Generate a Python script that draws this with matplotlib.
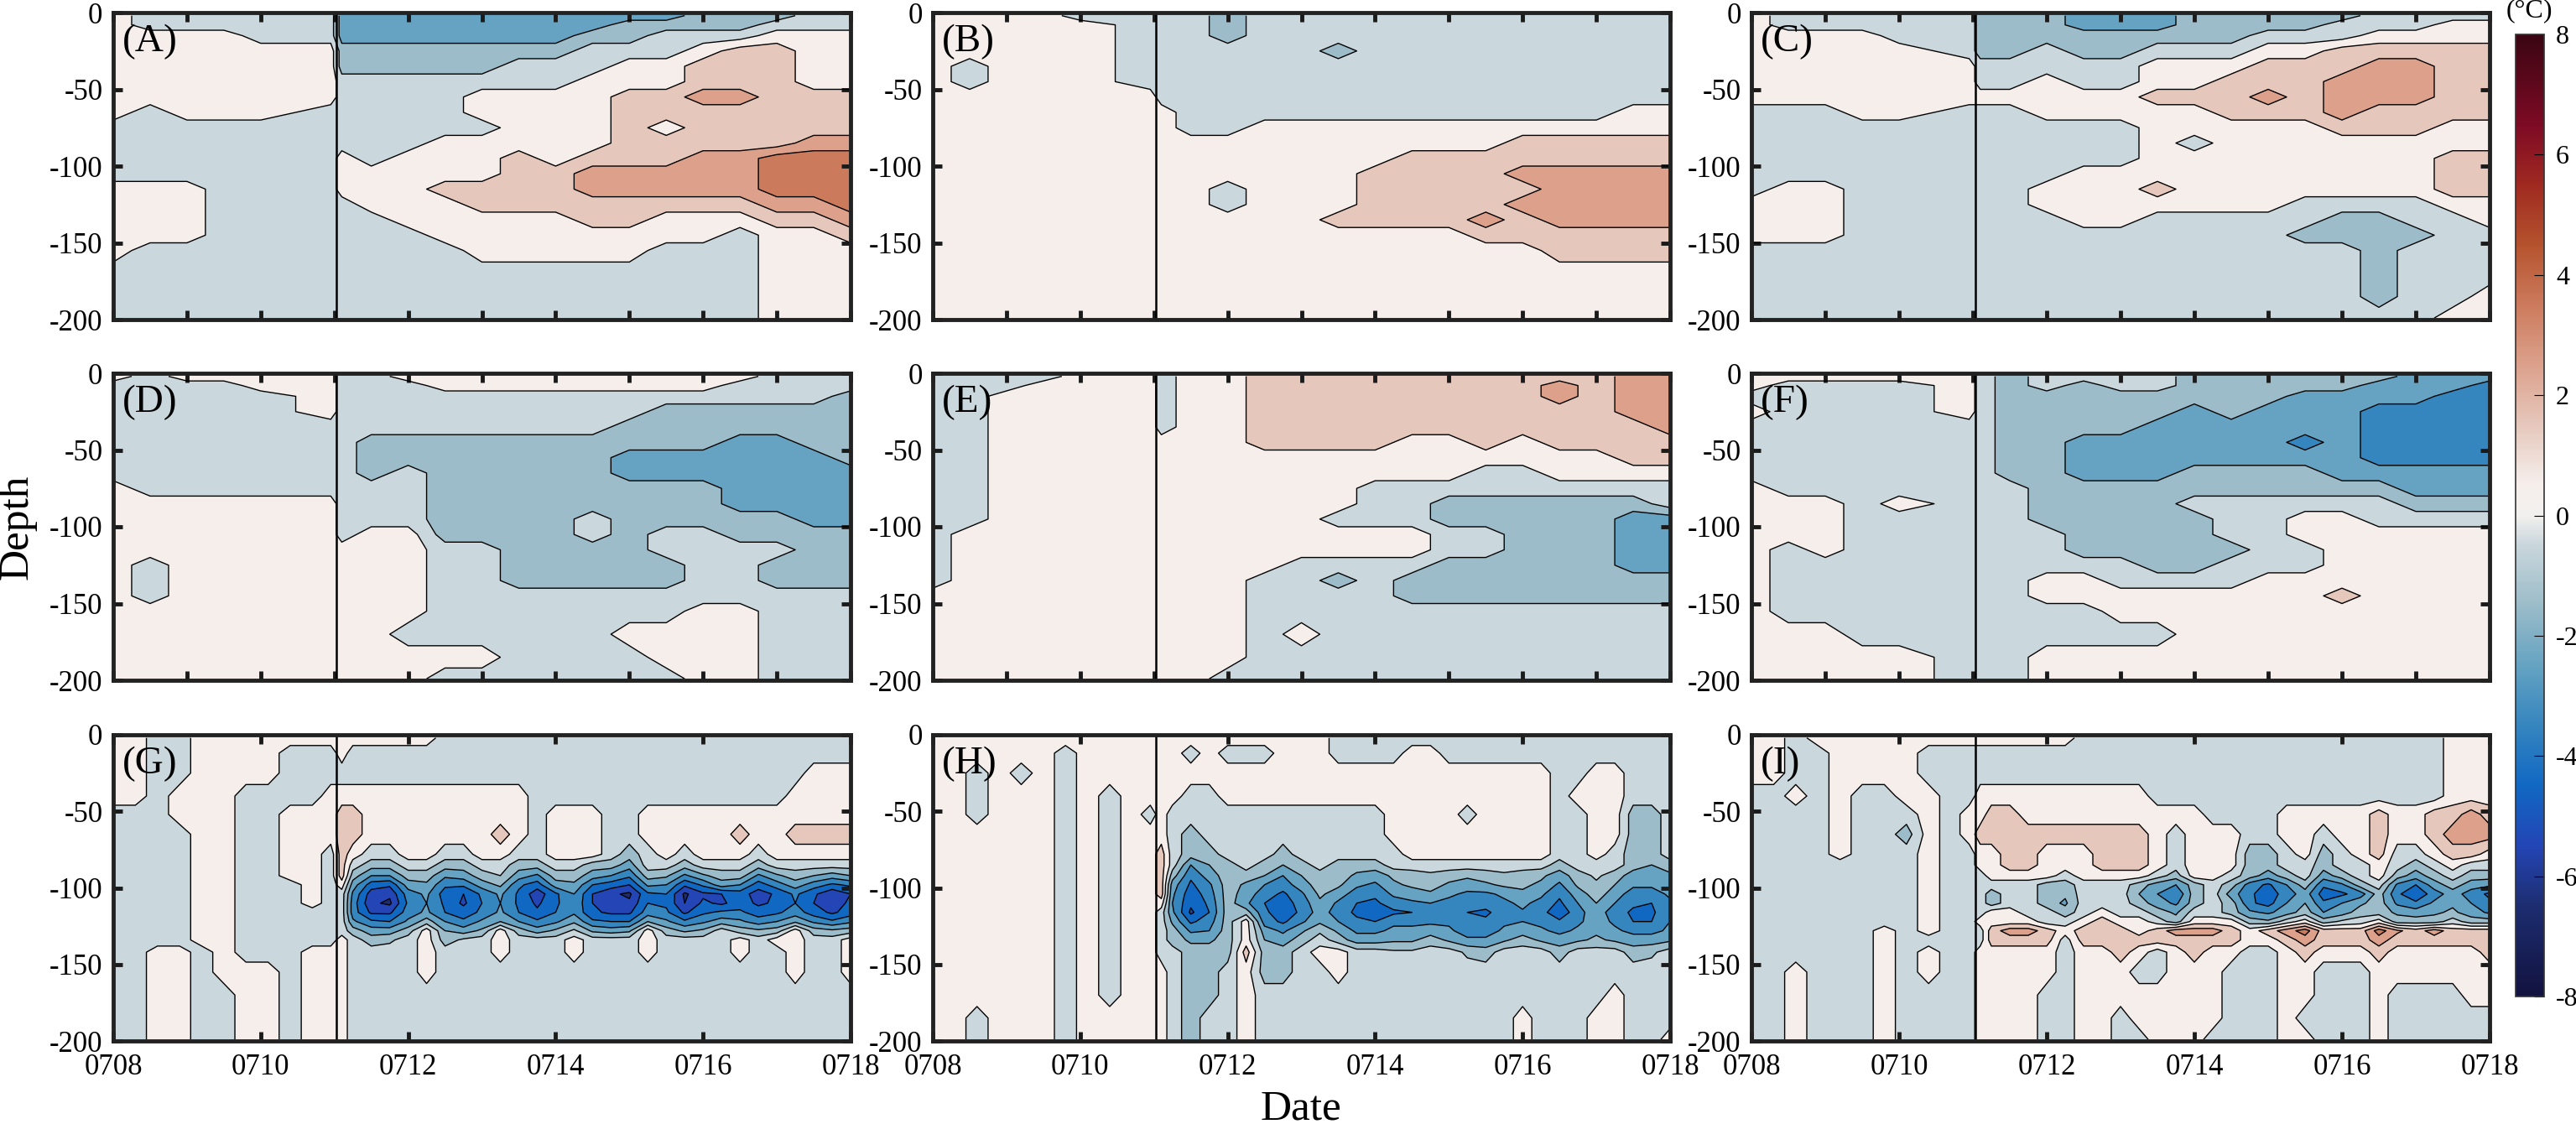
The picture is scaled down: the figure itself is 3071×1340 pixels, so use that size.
import numpy as np
import matplotlib
matplotlib.use('Agg')
import matplotlib.pyplot as plt
from matplotlib.cm import ScalarMappable
from matplotlib.colors import LinearSegmentedColormap, Normalize

plt.rcParams['font.family'] = ['Liberation Serif', 'DejaVu Serif']
plt.rcParams['axes.unicode_minus'] = False

# days after 0708, depth in m, temperature anomaly in 0.1 degC
days_top = [0, .5, 1, 1.5, 2, 2.95, 3.1, 3.5, 4, 4.5, 5, 5.5, 6, 6.5, 7, 7.5, 8, 8.5, 9, 9.5, 10]
depth_top = [-2, -8, -15, -25, -35, -45, -55, -65, -75, -85, -95, -105, -115, -125, -135, -145, -155, -170, -185, -199]
days_low = [0, .3, .6, .9, 1.2, 1.5, 1.8, 2.1, 2.4, 2.7, 2.95, 3.1, 3.25, 3.5, 3.75, 4, 4.25, 4.5, 4.75, 5, 5.25, 5.5,
            5.75, 6, 6.25, 6.5, 6.75, 7, 7.25, 7.5, 7.75, 8, 8.25, 8.5, 8.75, 9, 9.25, 9.5, 9.75, 10]
depth_low = [-2, -12, -25, -40, -52, -65, -78, -85, -92, -98, -104, -110, -116, -122, -128, -134, -142, -155, -170, -185, -199]
date_labels = ['0708', '0710', '0712', '0714', '0716', '0718']
depth_ticks = [0, -50, -100, -150, -200]
panel_names = ['(A)', '(B)', '(C)', '(D)', '(E)', '(F)', '(G)', '(H)', '(I)']

panel_a = [
    [5,-5,-5,-5,-5,-5,-25,-25,-25,-25,-25,-25,-25,-25,-25,-25,-15,-15,-15,-5,-5],
    [5,-5,-5,-5,-5,-5,-25,-25,-25,-25,-25,-25,-25,-25,-15,-15,-15,-15,-5,-5,-5],
    [5,5,5,5,-5,-5,-25,-25,-25,-25,-25,-25,-25,-15,-15,-5,-5,-5,5,5,5],
    [5,5,5,5,5,5,-15,-15,-15,-15,-15,-15,-15,-5,-5,-5,5,15,15,5,5],
    [5,5,5,5,5,5,-15,-15,-15,-15,-15,-5,-5,-5,5,5,15,15,15,5,5],
    [5,5,5,5,5,5,-5,-5,-5,-5,-5,-5,-5,5,5,5,15,15,15,5,5],
    [5,5,5,5,5,5,-5,-5,-5,-5,5,5,5,5,15,15,25,25,15,15,15],
    [5,-5,5,5,5,-5,-5,-5,-5,-5,5,5,5,5,15,15,15,15,15,15,15],
    [-5,-5,-5,-5,-5,-5,-5,-5,-5,-5,-5,5,5,5,15,5,15,15,15,15,15],
    [-5,-5,-5,-5,-5,-5,-5,-5,-5,5,5,5,5,5,15,15,15,15,15,25,25],
    [-5,-5,-5,-5,-5,-5,5,-5,5,5,5,15,5,15,15,15,25,25,35,35,35],
    [-5,-5,-5,-5,-5,-5,5,5,5,5,5,15,15,25,25,25,25,25,35,35,35],
    [5,5,5,-5,-5,-5,5,5,5,15,15,15,15,25,25,25,25,25,35,35,35],
    [5,5,5,-5,-5,-5,-5,5,5,5,15,15,15,15,15,15,15,15,25,25,35],
    [5,5,5,-5,-5,-5,-5,-5,5,5,5,5,5,15,15,5,5,5,15,15,25],
    [5,5,5,-5,-5,-5,-5,-5,-5,5,5,5,5,5,5,5,5,-5,5,5,15],
    [5,-5,-5,-5,-5,-5,-5,-5,-5,-5,5,5,5,5,5,-5,-5,-5,5,5,5],
    [-5,-5,-5,-5,-5,-5,-5,-5,-5,-5,-5,-5,-5,-5,-5,-5,-5,-5,5,5,5],
    [-5,-5,-5,-5,-5,-5,-5,-5,-5,-5,-5,-5,-5,-5,-5,-5,-5,-5,5,5,5],
    [-5,-5,-5,-5,-5,-5,-5,-5,-5,-5,-5,-5,-5,-5,-5,-5,-5,-5,5,5,5],
]
panel_b = [
    [5,5,5,5,-5,-5,-5,-5,-15,-5,-5,-5,-5,-5,-5,-5,-5,-5,-5,-5,-5],
    [5,5,5,5,5,-5,-5,-5,-15,-5,-5,-5,-5,-5,-5,-5,-5,-5,-5,-5,-5],
    [5,5,5,5,5,-5,-5,-5,-15,-5,-5,-5,-5,-5,-5,-5,-5,-5,-5,-5,-5],
    [5,5,5,5,5,-5,-5,-5,-5,-5,-5,-15,-5,-5,-5,-5,-5,-5,-5,-5,-5],
    [5,-5,5,5,5,-5,-5,-5,-5,-5,-5,-5,-5,-5,-5,-5,-5,-5,-5,-5,-5],
    [5,-5,5,5,5,-5,-5,-5,-5,-5,-5,-5,-5,-5,-5,-5,-5,-5,-5,-5,-5],
    [5,5,5,5,5,5,-5,-5,-5,-5,-5,-5,-5,-5,-5,-5,-5,-5,-5,-5,-5],
    [5,5,5,5,5,5,5,-5,-5,-5,-5,-5,-5,-5,-5,-5,-5,-5,-5,5,5],
    [5,5,5,5,5,5,5,-5,-5,5,5,5,5,5,5,5,5,5,5,5,5],
    [5,5,5,5,5,5,5,5,5,5,5,5,5,5,5,5,15,15,15,15,15],
    [5,5,5,5,5,5,5,5,5,5,5,5,5,15,15,15,15,15,15,15,15],
    [5,5,5,5,5,5,5,5,5,5,5,5,15,15,15,15,25,25,25,25,25],
    [5,5,5,5,5,5,5,5,-5,5,5,5,15,15,15,15,15,25,25,25,25],
    [5,5,5,5,5,5,5,5,-5,5,5,5,15,15,15,15,25,25,25,25,25],
    [5,5,5,5,5,5,5,5,5,5,5,15,15,15,15,25,15,25,25,25,25],
    [5,5,5,5,5,5,5,5,5,5,5,5,5,5,5,15,15,15,15,15,15],
    [5,5,5,5,5,5,5,5,5,5,5,5,5,5,5,5,5,15,15,15,15],
    [5,5,5,5,5,5,5,5,5,5,5,5,5,5,5,5,5,5,5,5,5],
    [5,5,5,5,5,5,5,5,5,5,5,5,5,5,5,5,5,5,5,5,5],
    [5,5,5,5,5,5,5,5,5,5,5,5,5,5,5,5,5,5,5,5,5],
]
panel_c = [
    [5,-5,-5,-5,-5,-5,-15,-15,-15,-25,-25,-25,-15,-15,-15,-15,-15,-5,-5,-5,-5],
    [5,-5,-5,-5,-5,-5,-15,-15,-15,-25,-25,-25,-15,-15,-15,-15,-5,-5,-5,5,5],
    [5,5,5,5,-5,-5,-15,-15,-15,-15,-15,-15,-15,-15,-5,-5,-5,5,5,5,5],
    [5,5,5,5,5,-5,-15,-15,-5,-15,-15,-5,-5,-5,5,5,15,15,15,15,15],
    [5,5,5,5,5,5,-5,-5,-5,-5,-5,5,5,5,15,15,15,25,25,15,15],
    [5,5,5,5,5,5,-5,-5,5,-5,-5,5,5,15,15,15,25,25,25,15,15],
    [5,5,5,5,5,5,5,5,5,5,5,15,15,15,25,15,25,25,25,15,15],
    [-5,-5,-5,5,5,-5,-5,-5,5,5,5,5,5,15,15,15,25,15,15,15,15],
    [-5,-5,-5,-5,-5,-5,-5,-5,-5,-5,-5,5,5,5,5,5,15,15,15,5,5],
    [-5,-5,-5,-5,-5,-5,-5,-5,-5,-5,-5,5,-5,5,5,5,5,5,5,5,5],
    [-5,-5,-5,-5,-5,-5,-5,-5,-5,-5,-5,5,5,5,5,5,5,5,5,15,15],
    [-5,-5,-5,-5,-5,-5,-5,-5,-5,5,5,5,5,5,5,5,5,5,5,15,15],
    [-5,5,5,-5,-5,-5,-5,-5,5,5,5,15,5,5,5,5,5,5,5,15,15],
    [5,5,5,-5,-5,-5,-5,-5,5,5,5,5,5,5,5,-5,-5,-5,-5,5,5],
    [5,5,5,-5,-5,-5,-5,-5,-5,5,5,-5,-5,-5,-5,-5,-15,-15,-5,-5,5],
    [5,5,5,-5,-5,-5,-5,-5,-5,-5,-5,-5,-5,-5,-5,-15,-15,-15,-15,-5,-5],
    [-5,-5,-5,-5,-5,-5,-5,-5,-5,-5,-5,-5,-5,-5,-5,-5,-5,-15,-5,-5,-5],
    [-5,-5,-5,-5,-5,-5,-5,-5,-5,-5,-5,-5,-5,-5,-5,-5,-5,-15,-5,-5,-5],
    [-5,-5,-5,-5,-5,-5,-5,-5,-5,-5,-5,-5,-5,-5,-5,-5,-5,-15,-5,-5,5],
    [-5,-5,-5,-5,-5,-5,-5,-5,-5,-5,-5,-5,-5,-5,-5,-5,-5,-5,-5,5,5],
]
panel_d = [
    [5,-5,5,5,5,5,-5,-5,5,5,5,5,5,5,5,5,5,5,-5,-5,-5],
    [-5,-5,-5,-5,5,5,-5,-5,-5,5,5,5,5,5,5,5,5,-5,-5,-5,-5],
    [-5,-5,-5,-5,-5,5,-5,-5,-5,-5,-5,-5,-5,-5,-5,-5,-5,-5,-5,-5,-15],
    [-5,-5,-5,-5,-5,5,-5,-5,-5,-5,-5,-5,-5,-5,-5,-15,-15,-15,-15,-15,-15],
    [-5,-5,-5,-5,-5,-5,-5,-5,-5,-5,-5,-5,-5,-5,-15,-15,-15,-15,-15,-15,-15],
    [-5,-5,-5,-5,-5,-5,-5,-15,-15,-15,-15,-15,-15,-15,-15,-15,-15,-25,-25,-15,-15],
    [-5,-5,-5,-5,-5,-5,-5,-15,-15,-15,-15,-15,-15,-15,-25,-25,-25,-25,-25,-25,-15],
    [-5,-5,-5,-5,-5,-5,-5,-15,-5,-15,-15,-15,-15,-15,-25,-25,-25,-25,-25,-25,-25],
    [5,-5,-5,-5,-5,-5,-5,-5,-5,-15,-15,-15,-15,-15,-15,-15,-15,-25,-25,-25,-25],
    [5,5,5,5,5,5,-5,-5,-5,-15,-15,-15,-15,-15,-15,-15,-15,-25,-25,-25,-25],
    [5,5,5,5,5,5,-5,-5,-5,-15,-15,-15,-15,-5,-15,-15,-15,-15,-15,-25,-25],
    [5,5,5,5,5,5,-5,5,5,-15,-15,-15,-15,-5,-15,-5,-5,-15,-15,-15,-15],
    [5,5,5,5,5,5,5,5,5,-5,-5,-15,-15,-15,-15,-5,-5,-5,-5,-15,-15],
    [5,-5,5,5,5,5,5,5,5,-5,-5,-15,-15,-15,-15,-15,-5,-5,-15,-15,-15],
    [5,-5,5,5,5,5,5,5,5,-5,-5,-15,-15,-15,-15,-15,-5,-5,-15,-15,-15],
    [5,-5,5,5,5,5,5,5,5,-5,-5,-5,-5,-5,-5,-5,-5,-5,-5,-5,-5],
    [5,5,5,5,5,5,5,5,5,-5,-5,-5,-5,-5,-5,-5,5,5,-5,-5,-5],
    [5,5,5,5,5,5,5,5,-5,-5,-5,-5,-5,-5,5,5,5,5,-5,-5,-5],
    [5,5,5,5,5,5,5,5,5,5,5,-5,-5,-5,-5,5,5,5,-5,-5,-5],
    [5,5,5,5,5,5,5,5,5,-5,-5,-5,-5,-5,-5,-5,5,5,-5,-5,-5],
]
panel_e = [
    [-5,-5,-5,-5,5,5,-5,5,5,15,15,15,15,15,15,15,15,15,15,25,25],
    [-5,-5,-5,5,5,5,-5,5,5,15,15,15,15,15,15,15,15,25,15,25,25],
    [-5,-5,5,5,5,5,-5,5,5,15,15,15,15,15,15,15,15,25,15,25,25],
    [-5,-5,5,5,5,5,-5,5,5,15,15,15,15,15,15,15,15,15,15,25,25],
    [-5,-5,5,5,5,5,-5,5,5,15,15,15,15,15,15,15,15,15,15,15,25],
    [-5,-5,5,5,5,5,5,5,5,15,15,15,15,5,5,15,5,15,15,15,15],
    [-5,-5,5,5,5,5,5,5,5,5,5,5,5,5,5,5,5,5,5,15,15],
    [-5,-5,5,5,5,5,5,5,5,5,5,5,5,5,5,-5,-5,5,5,5,5],
    [-5,-5,5,5,5,5,5,5,5,5,5,5,-5,-5,-5,-5,-5,-5,-5,-5,-5],
    [-5,-5,5,5,5,5,5,5,5,5,5,5,-5,-5,-15,-15,-15,-15,-15,-15,-5],
    [-5,-5,5,5,5,5,5,5,5,5,5,-5,-5,-5,-15,-15,-15,-15,-15,-25,-25],
    [-5,5,5,5,5,5,5,5,5,5,5,5,5,5,-5,-5,-15,-15,-15,-25,-25],
    [-5,5,5,5,5,5,5,5,5,5,5,5,5,5,-5,-5,-15,-15,-15,-25,-25],
    [-5,5,5,5,5,5,5,5,5,5,-5,-5,-5,-5,-15,-15,-15,-15,-15,-25,-25],
    [-5,5,5,5,5,5,5,5,5,-5,-5,-15,-5,-15,-15,-15,-15,-15,-15,-15,-15],
    [5,5,5,5,5,5,5,5,5,-5,-5,-5,-5,-15,-15,-15,-15,-15,-15,-15,-15],
    [5,5,5,5,5,5,5,5,5,-5,-5,-5,-5,-5,-5,-5,-5,-5,-5,-5,-5],
    [5,5,5,5,5,5,5,5,5,-5,5,-5,-5,-5,-5,-5,-5,-5,-5,-5,-5],
    [5,5,5,5,5,5,5,5,5,-5,-5,-5,-5,-5,-5,-5,-5,-5,-5,-5,-5],
    [5,5,5,5,5,5,5,5,-5,-5,-5,-5,-5,-5,-5,-5,-5,-5,-5,-5,-5],
]
panel_f = [
    [5,5,5,5,5,5,-5,-15,-5,-5,-5,-5,-15,-15,-15,-15,-15,-15,-25,-25,-25],
    [5,-5,-5,-5,-5,5,-5,-15,-5,-15,-5,-5,-15,-15,-15,-15,-15,-25,-25,-25,-35],
    [-5,-5,-5,-5,-5,5,-5,-15,-15,-15,-15,-15,-15,-15,-15,-25,-25,-25,-25,-35,-35],
    [5,-5,-5,-5,-5,5,-5,-15,-15,-15,-15,-15,-25,-15,-25,-25,-25,-35,-35,-35,-35],
    [-5,-5,-5,-5,-5,-5,-5,-15,-15,-15,-15,-25,-25,-25,-25,-25,-25,-35,-35,-35,-35],
    [-5,-5,-5,-5,-5,-5,-5,-15,-15,-25,-25,-25,-25,-25,-25,-35,-25,-35,-35,-35,-35],
    [-5,-5,-5,-5,-5,-5,-5,-15,-15,-25,-25,-25,-25,-25,-25,-25,-25,-35,-35,-35,-35],
    [-5,-5,-5,-5,-5,-5,-5,-15,-15,-25,-25,-25,-15,-15,-15,-15,-25,-25,-25,-25,-25],
    [5,-5,-5,-5,-5,-5,-5,-5,-15,-15,-15,-15,-15,-15,-15,-15,-15,-15,-25,-25,-25],
    [5,5,5,-5,5,-5,-5,-5,-15,-15,-15,-15,-5,-5,-5,-5,-5,-5,-15,-15,-15],
    [5,5,5,-5,-5,-5,-5,-5,-15,-15,-15,-15,-15,-5,-5,5,5,-5,-5,-5,-5],
    [5,5,5,-5,-5,-5,-5,-5,-5,-15,-15,-15,-15,-5,-5,5,5,5,5,5,5],
    [5,-5,5,-5,-5,-5,-5,-5,-5,-15,-15,-15,-15,-15,-5,-5,5,5,5,5,5],
    [5,-5,-5,-5,-5,-5,-5,-5,-5,-5,-5,-15,-15,-5,-5,-5,5,5,5,5,5],
    [5,-5,-5,-5,-5,-5,-5,-5,5,5,-5,-5,-5,-5,5,5,5,5,5,5,5],
    [5,-5,-5,-5,-5,-5,-5,-5,5,5,5,5,5,5,5,5,15,5,5,5,5],
    [5,-5,-5,-5,-5,-5,-5,-5,-5,-5,5,5,5,5,5,5,5,5,5,5,5],
    [5,5,5,-5,-5,-5,-5,-5,-5,-5,-5,-5,5,5,5,5,5,5,5,5,5],
    [5,5,5,5,5,-5,-5,-5,5,5,5,5,5,5,5,5,5,5,5,5,5],
    [5,5,5,5,5,-5,-5,-5,5,5,5,5,5,5,5,5,5,5,5,5,5],
]
panel_g = [
    [5,5,-5,-5,5,5,5,5,5,5,5, 5,5,5,5,5,5,-5,-5,-5,-5,-5,-5,-5,-5,-5,-5,-5,-5,-5,-5,-5,-5,-5,-5,-5,-5,-5,-5,-5],
    [5,5,-5,-5,5,5,5,5,-5,-5,-5, 5,-5,-5,-5,-5,-5,-5,-5,-5,-5,-5,-5,-5,-5,-5,-5,-5,-5,-5,-5,-5,-5,-5,-5,-5,-5,-5,-5,-5],
    [5,5,-5,-5,5,5,5,5,-5,-5,-5, -5,-5,-5,-5,-5,-5,-5,-5,-5,-5,-5,-5,-5,-5,-5,-5,-5,-5,-5,-5,-5,-5,-5,-5,-5,-5,5,5,5],
    [5,5,-5,5,5,5,-5,-5,-5,-5,5, 5,5,5,5,5,5,5,5,5,5,5,-5,-5,-5,-5,-5,-5,-5,-5,-5,-5,-5,-5,-5,-5,5,5,5,5],
    [-5,-5,-5,5,5,5,-5,-5,5,5,5, 15,15,5,5,5,5,5,5,5,5,5,-5,5,5,5,-5,-5,5,5,5,5,5,5,5,5,5,5,5,5],
    [-5,-5,-5,-5,5,5,-5,-5,5,5,5, 15,15,5,5,5,5,5,5,5,15,5,-5,5,5,5,-5,-5,5,5,5,5,5,15,5,5,15,15,15,15],
    [-5,-5,-5,-5,5,5,-5,-5,5,5,-5, 15,5,-5,-5,5,5,-5,-5,5,5,-5,-5,5,5,5,-5,-15,-5,5,-5,5,5,5,-5,5,5,5,5,5],
    [-5,-5,-5,-5,5,5,-5,-5,5,5,-5, 15,-5,-15,-15,-5,-5,-15,-15,-5,-5,-15,-15,-5,-5,-15,-15,-25,-5,-5,-15,-5,-5,-5,-15,-5,-5,-5,-5,-5],
    [-5,-5,-5,-5,5,5,-5,-5,5,5,-5, 15,-15,-30,-30,-15,-15,-28,-25,-15,-10,-25,-32,-15,-15,-25,-30,-38,-15,-18,-32,-22,-15,-15,-32,-22,-15,-20,-25,-20],
    [-5,-5,-5,-5,5,5,-5,-5,-5,5,-5, 5,-25,-45,-48,-25,-22,-38,-38,-25,-18,-38,-45,-25,-22,-40,-45,-50,-28,-30,-48,-38,-25,-30,-45,-35,-25,-35,-42,-38],
    [-5,-5,-5,-5,5,5,-5,-5,-5,5,-5, -5,-32,-55,-58,-35,-28,-45,-50,-38,-28,-42,-56,-42,-30,-50,-58,-62,-42,-40,-62,-52,-50,-45,-55,-48,-38,-48,-58,-50],
    [-5,-5,-5,-5,5,5,-5,-5,-5,5,-5, -5,-35,-58,-62,-38,-30,-42,-52,-40,-30,-42,-52,-42,-32,-50,-58,-58,-40,-42,-60,-48,-52,-45,-52,-48,-40,-50,-55,-48],
    [-5,-5,-5,-5,5,5,-5,-5,-5,-5,-5, -5,-35,-52,-52,-35,-28,-40,-45,-38,-28,-40,-48,-40,-32,-48,-52,-52,-35,-38,-52,-42,-38,-38,-45,-42,-35,-45,-52,-45],
    [-5,-5,-5,-5,5,5,-5,-5,-5,-5,-5, -5,-28,-38,-40,-28,-15,-30,-38,-28,-20,-30,-38,-32,-22,-38,-40,-40,-20,-28,-38,-32,-25,-28,-35,-30,-22,-32,-38,-32],
    [-5,-5,-5,-5,5,5,-5,-5,-5,-5,-5, -5,-15,-25,-25,-15,5,-20,-25,-18,5,-15,-25,-18,-8,-22,-25,-22,5,-15,-22,-18,-5,-15,-18,-15,5,-15,-18,-15],
    [-5,-5,-5,-5,5,5,-5,-5,-5,-5,-5, 5,-5,-15,-12,-5,5,-15,-8,-5,5,-5,-5,-5,5,-5,-5,-5,5,-5,-5,-5,-5,5,-5,5,5,-5,-5,5],
    [-5,-5,5,5,-5,5,-5,-5,-5,5,5, 5,-5,-5,-5,-5,5,-5,-5,-5,5,-5,-5,-5,5,-5,-5,-5,5,-5,-5,-5,-5,5,-5,-5,5,-5,-5,5],
    [-5,-5,5,5,-5,5,5,5,-5,5,5, 5,-5,-5,-5,-5,5,-5,-5,-5,-5,-5,-5,-5,-5,-5,-5,-5,-5,-5,-5,-5,-5,-5,-5,-5,5,-5,-5,5],
    [-5,-5,5,5,-5,-5,5,5,-5,5,5, 5,-5,-5,-5,-5,-5,-5,-5,-5,-5,-5,-5,-5,-5,-5,-5,-5,-5,-5,-5,-5,-5,-5,-5,-5,-5,-5,-5,-5],
    [-5,-5,5,5,-5,-5,5,5,-5,5,5, 5,-5,-5,-5,-5,-5,-5,-5,-5,-5,-5,-5,-5,-5,-5,-5,-5,-5,-5,-5,-5,-5,-5,-5,-5,-5,-5,-5,-5],
    [-5,-5,5,5,-5,-5,5,5,-5,5,5, 5,-5,-5,-5,-5,-5,-5,-5,-5,-5,-5,-5,-5,-5,-5,-5,-5,-5,-5,-5,-5,-5,-5,-5,-5,-5,-5,-5,-5],
]
panel_h = [
    [5,5,5,5,5,5,5,5,5,5,5, 5,5,5,5,5,5,5,5,5,5,-5,-5,-5,-5,-5,-5,-5,-5,-5,-5,-5,-5,-5,-5,-5,-5,-5,-5,-5],
    [5,5,5,5,5,5,-5,5,5,5,5, 5,5,-5,5,-5,-5,-5,5,5,5,-5,-5,-5,-5,5,5,-5,-5,-5,-5,-5,-5,-5,-5,-5,-5,-5,-5,-5],
    [5,5,-5,5,-5,5,-5,5,5,5,5, 5,5,5,5,5,5,5,5,5,5,5,5,5,5,5,5,5,5,5,5,5,5,-5,-5,5,5,-5,-5,-5],
    [5,5,-5,5,5,5,-5,5,-5,5,5, 5,5,-5,-5,5,5,5,5,5,5,5,5,5,5,5,5,5,5,5,5,5,5,-5,5,5,5,-5,-5,-5],
    [5,5,-5,5,5,5,-5,5,-5,5,-5, 5,-5,-5,-5,-5,-5,-5,-5,-5,-5,-5,-5,-5,5,5,5,5,-5,5,5,5,5,-5,-5,5,5,-15,-15,-5],
    [5,5,5,5,5,5,-5,5,-5,5,5, 5,-5,-15,-5,-5,-5,-5,-5,-5,-5,-5,-5,-5,5,5,5,5,5,5,5,5,5,-5,-5,5,5,-15,-15,-5],
    [5,5,5,5,5,5,-5,5,-5,5,5, 15,-5,-15,-15,-5,-5,-5,-15,-5,-5,-5,-5,-5,-5,5,5,5,5,5,5,5,5,-5,-5,5,-5,-15,-15,-5],
    [5,5,5,5,5,5,-5,5,-5,5,5, 15,-5,-30,-20,-15,-5,-15,-20,-15,-5,-15,-15,-15,-5,-5,-5,-5,-5,-5,-5,-5,-5,-15,-5,-5,-5,-15,-20,-15],
    [5,5,5,5,5,5,-5,5,-5,5,5, 15,-15,-38,-25,-15,-15,-20,-30,-20,-15,-15,-22,-25,-18,-15,-12,-15,-18,-15,-12,-15,-18,-25,-15,-8,-15,-25,-25,-22],
    [5,5,5,5,5,5,-5,5,-5,5,5, 15,-25,-42,-32,-15,-22,-30,-35,-25,-15,-18,-28,-32,-22,-18,-15,-22,-25,-22,-18,-18,-22,-32,-18,-12,-20,-28,-28,-25],
    [5,5,5,5,5,5,-5,5,-5,5,5, 15,-28,-46,-35,-15,-25,-35,-42,-32,-18,-25,-35,-38,-28,-25,-22,-28,-32,-32,-28,-22,-28,-38,-25,-15,-25,-35,-35,-28],
    [5,5,5,5,5,5,-5,5,-5,5,5, 5,-30,-48,-38,-15,-28,-40,-45,-36,-22,-32,-40,-42,-35,-32,-30,-33,-38,-36,-32,-28,-33,-42,-30,-20,-30,-38,-40,-32],
    [5,5,5,5,5,5,-5,5,-5,5,5, -5,-28,-52,-40,-15,-15,-38,-46,-38,-25,-35,-42,-45,-42,-40,-38,-36,-40,-42,-35,-31,-36,-48,-33,-25,-35,-42,-42,-32],
    [5,5,5,5,5,5,-5,5,-5,5,5, -5,-22,-42,-35,-15,5,-35,-42,-32,-22,-30,-38,-40,-32,-32,-32,-32,-38,-38,-32,-30,-33,-38,-32,-25,-32,-40,-40,-30],
    [5,5,5,5,5,5,-5,5,-5,5,5, -5,-15,-32,-30,-15,5,-25,-32,-22,-12,-22,-32,-32,-28,-28,-25,-28,-35,-35,-28,-25,-28,-33,-28,-22,-28,-33,-33,-28],
    [5,5,5,5,5,5,-5,5,-5,5,5, -5,-15,-22,-22,-15,5,-20,-25,-15,-5,-15,-25,-25,-22,-22,-15,-22,-28,-28,-22,-15,-22,-25,-22,-18,-22,-25,-25,-22],
    [5,5,5,5,5,5,-5,5,-5,5,5, -5,-5,-15,-15,-15,15,-15,-15,-5,5,5,-5,-5,-8,-8,-5,-5,-12,-15,-5,-5,-5,-15,-5,-5,-5,-15,-12,-5],
    [5,5,5,5,5,5,-5,5,-5,5,5, 5,-5,-15,-15,-5,5,-15,-15,-5,-5,5,-5,-5,-5,-5,-5,-5,-5,-5,-5,-5,-5,-5,-5,-5,-5,-5,-5,-5],
    [5,5,5,5,5,5,-5,5,-5,5,5, 5,-5,-15,-15,-5,5,-5,-5,-5,-5,-5,-5,-5,-5,-5,-5,-5,-5,-5,-5,-5,-5,-5,-5,-5,5,-5,-5,-5],
    [5,5,-5,5,5,5,-5,5,5,5,5, 5,-5,-15,-5,-5,5,-5,-5,-5,-5,-5,-5,-5,-5,-5,-5,-5,-5,-5,-5,5,-5,-5,-5,5,5,-5,-5,-5],
    [5,5,-5,5,5,5,-5,5,5,5,5, 5,-5,-15,-5,-5,5,-5,-5,-5,-5,-5,-5,-5,-5,-5,-5,-5,-5,-5,-5,5,-5,-5,-5,5,5,-5,-5,5],
]
panel_i = [
    [5,5,-5,5,5,5,5,5,5,5,5, 5,5,5,5,5,5,-5,-5,-5,-5,-5,-5,-5,-5,-5,-5,-5,-5,-5,-5,-5,-5,-5,-5,-5,-5,5,5,5],
    [5,5,-5,-5,5,5,5,5,-5,-5,-5, -5,-5,-5,-5,-5,-5,-5,-5,-5,-5,-5,-5,-5,-5,-5,-5,-5,-5,-5,-5,-5,-5,-5,-5,-5,-5,5,5,5],
    [5,5,-5,-5,5,5,5,5,-5,-5,-5, -5,-5,-5,-5,-5,-5,-5,-5,-5,-5,-5,-5,-5,-5,-5,-5,-5,-5,-5,-5,-5,-5,-5,-5,-5,-5,5,5,5],
    [-5,-5,5,-5,5,-5,-5,5,5,-5,-5, 5,5,5,5,5,5,5,5,5,5,-5,-5,-5,-5,-5,-5,-5,-5,-5,-5,-5,-5,-5,-5,-5,-5,5,5,5],
    [-5,-5,-5,-5,5,-5,-5,-5,5,-5,5, 5,15,15,5,5,5,5,5,5,5,5,5,5,-5,-5,-5,-5,5,5,5,5,5,15,5,5,15,15,25,15],
    [-5,-5,-5,-5,5,-5,-5,-15,5,-5,5, 15,15,15,15,15,15,15,15,15,15,5,-5,5,5,5,-5,-5,5,5,-5,5,5,15,5,5,15,25,25,25],
    [-5,-5,-5,-5,5,-5,-5,-5,5,-5,-5, 5,5,15,15,5,5,5,15,15,15,5,-5,5,5,5,-15,-15,-5,5,-15,-5,5,15,-5,-5,5,15,15,5],
    [-5,-5,-5,-5,-5,-5,-5,-5,5,-5,-5, 5,5,15,15,5,5,5,15,15,15,5,-5,5,5,5,-15,-15,-5,-5,-15,-5,-5,5,-5,-15,-5,5,-5,-5],
    [-5,-5,-5,-5,-5,-5,-5,-5,5,-5,-5, -5,5,5,5,5,-5,5,5,5,5,-5,-15,5,5,-5,-15,-25,-15,-5,-25,-15,-5,5,-15,-25,-15,-5,-15,-15],
    [-5,-5,-5,-5,-5,-5,-5,-5,5,-5,-5, -5,-5,-5,-5,-15,-15,-5,-5,-5,-15,-25,-30,-15,-5,-15,-35,-42,-30,-15,-38,-32,-15,-5,-32,-40,-25,-15,-25,-28],
    [-5,-5,-5,-5,-5,-5,-5,-5,5,-5,-5, -5,-15,-5,-5,-15,-18,-5,-5,-5,-20,-30,-40,-15,-5,-25,-38,-46,-35,-25,-45,-42,-35,-15,-38,-48,-35,-25,-35,-42],
    [-5,-5,-5,-5,-5,-5,-5,-5,5,-5,-5, -5,-15,-5,-5,-15,-22,-5,-5,-5,-15,-25,-32,-15,-5,-15,-38,-44,-30,-20,-38,-30,-22,-15,-32,-38,-28,-22,-30,-38],
    [-5,-5,-5,-5,-5,-5,-5,-5,5,-5,-5, -5,5,5,-5,-5,-15,-5,5,-5,-5,-15,-22,-5,-5,-15,-28,-32,-25,-15,-30,-25,-15,-15,-22,-25,-22,-18,-25,-32],
    [-5,-5,-5,-5,-5,-5,-5,-5,5,-5,-5, 5,5,5,5,-5,-5,5,15,5,5,-5,-15,5,5,5,-15,-18,-5,5,-15,-8,-5,5,-15,-15,-15,-5,-15,-15],
    [-5,-5,-5,-5,-5,-5,5,-5,5,-5,-5, -5,15,25,25,15,5,15,15,15,5,15,25,25,25,15,5,15,25,35,15,15,15,35,22,15,25,15,15,15],
    [-5,-5,-5,-5,-5,-5,5,-5,-5,-5,-5, -5,15,15,15,15,-5,15,15,15,15,15,15,15,15,15,5,5,15,25,15,15,15,25,15,15,15,15,15,15],
    [-5,-5,-5,-5,-5,-5,5,-5,5,-5,-5, 5,5,5,5,5,-5,5,5,15,5,-5,5,15,5,5,-5,-5,5,15,5,5,5,15,5,5,5,5,5,15],
    [-5,-5,5,-5,-5,-5,5,-5,5,-5,-5, 5,5,5,5,5,-5,5,5,5,-5,-5,5,5,5,-5,-5,-5,5,5,-5,-5,-5,5,5,5,5,5,5,5],
    [-5,-5,5,-5,-5,-5,5,-5,-5,-5,-5, 5,5,5,5,-5,-5,5,5,5,5,5,5,5,5,-5,-5,-5,5,5,-5,-5,-5,5,-5,-5,-5,-5,5,5],
    [-5,-5,5,-5,-5,-5,5,-5,-5,-5,-5, 5,5,5,5,-5,-5,5,5,-5,5,5,5,5,5,-5,-5,-5,5,-5,-5,-5,-5,5,-5,-5,-5,-5,-5,-5],
    [-5,-5,5,-5,-5,-5,5,-5,-5,-5,-5, 5,5,5,5,-5,-5,5,5,-5,-5,5,5,5,-5,-5,-5,-5,5,5,-5,-5,-5,5,-5,-5,-5,-5,-5,-5],
]

# colours of the filled bands, taken at the middle of each 1 degC class
class_mid = [-8, -6.5, -5.5, -4.5, -3.5, -2.5, -1.5, -.5, 0, .5, 1.5, 2.5, 3.5, 4.5, 5.5, 6.5, 8]
class_col = ['#12123f', '#1d2d70', '#2345b5', '#1168c3', '#3585bf', '#65a3c2', '#9bbcc9', '#c9d6dc', '#f2f0ee',
             '#f5efec', '#e6c8bd', '#dca18c', '#cc7b5d', '#b5532e', '#a02a20', '#7e0a25', '#3a0512']
cmap = LinearSegmentedColormap.from_list('anom', [((m + 8) / 16, c) for m, c in zip(class_mid, class_col)], N=512)
norm = Normalize(-8, 8)
levels = np.arange(-8, 9)


def to_grid(rows, ncol):
    out = []
    for i, r in enumerate(rows):
        if len(r) != ncol:
            print('row', i, 'has', len(r))
        r = (list(r) + [r[-1]] * ncol)[:ncol]
        out.append(r)
    return np.array(out) / 10.


W, H = 3071., 1340.
fig = plt.figure(figsize=(W / 100, H / 100), dpi=100)

lefts = [(135, 1014), (1112, 1991), (2088, 2968)]
rows_px = [(15, 381), (445, 811), (876, 1241)]
grids = [panel_a, panel_b, panel_c, panel_d, panel_e, panel_f, panel_g, panel_h, panel_i]

for k, rows in enumerate(grids):
    r, c = k // 3, k % 3
    x0, x1 = lefts[c]
    y0, y1 = rows_px[r]
    ax = fig.add_axes([x0 / W, 1 - y1 / H, (x1 - x0) / W, (y1 - y0) / H])
    if r < 2:
        t, d = days_top, depth_top
    else:
        t, d = days_low, depth_low
    z = to_grid(rows, len(t))
    ax.contourf(t, d, z, levels=levels, cmap=cmap, norm=norm)
    ax.contour(t, d, z, levels=levels, colors='k', linewidths=1.0, linestyles='solid')
    ax.axvline(3.03, color='k', lw=1.8)
    ax.set_xlim(0, 10)
    ax.set_ylim(-200, 0)
    ax.set_yticks(depth_ticks)
    if r < 2:
        ax.set_xticks(np.arange(0, 11))
        ax.set_xticklabels([])
    else:
        ax.set_xticks(np.arange(0, 11, 2))
        ax.set_xticklabels(date_labels)
    ax.tick_params(direction='in', top=True, right=True, length=8, width=3.5, labelsize=25, pad=9, color='#1a1a1a')
    ax.tick_params(axis='x', pad=11)
    for s in ax.spines.values():
        s.set_linewidth(3.5)
        s.set_color('#222222')
    ax.text(.012, .905, panel_names[k], transform=ax.transAxes, fontsize=34, va='center', ha='left')

fig.text(20 / W, 1 - 628 / H, 'Depth', rotation=90, fontsize=37, ha='center', va='center')
fig.text(1551 / W, 1 - 1322 / H, 'Date', fontsize=37, ha='center', va='center')

cax = fig.add_axes([2999 / W, 1 - 1188 / H, 34 / W, 1147 / H])
cb = fig.colorbar(ScalarMappable(norm=norm, cmap=cmap), cax=cax)
cb.set_ticks(np.arange(-8, 9, 2))
cb.ax.tick_params(direction='in', length=9, width=.8, labelsize=23, pad=10, color='k')
cb.outline.set_linewidth(1.2)
cb.outline.set_edgecolor('#333333')
fig.text(3015 / W, 1 - 13 / H, '(\u00b0C)', fontsize=23, ha='center', va='center')

fig.savefig('out.png', dpi=100)
